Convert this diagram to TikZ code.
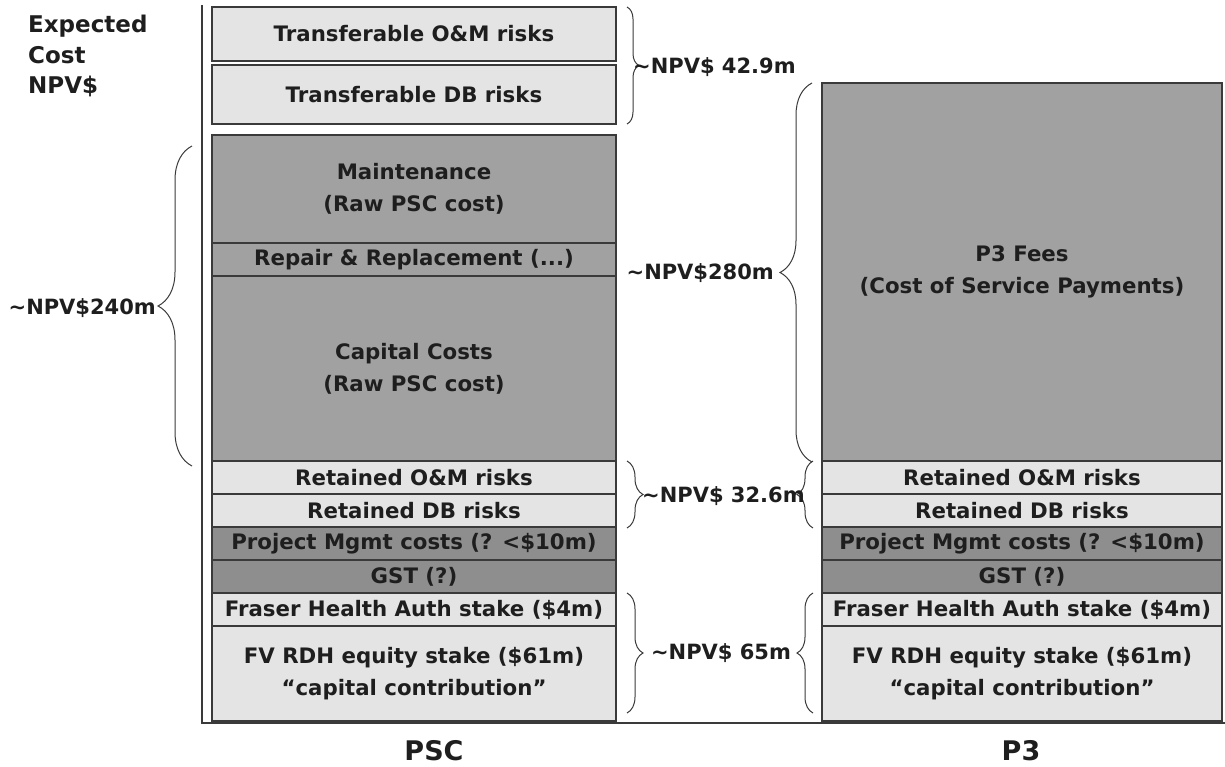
\documentclass[tikz,border=0pt]{standalone}
\usepackage{fontspec}
\setmainfont{DejaVu Sans}
\usetikzlibrary{decorations.pathreplacing}

\definecolor{light}{HTML}{E4E4E4}
\definecolor{mid}{HTML}{A1A1A1}
\definecolor{deep}{HTML}{8E8E8E}
\definecolor{edge}{HTML}{3A3A3A}
\definecolor{ink}{HTML}{1E1E1E}

\newcommand\cellfont{\fontsize{21.3}{32}\selectfont\bfseries}
\newcommand\tagfont{\fontsize{21}{24}\selectfont\bfseries}

\begin{document}
\begin{tikzpicture}[x=1pt,y=-1pt,
  cell/.style={draw=edge, line width=1.3pt, inner sep=0pt, text=ink,
    font=\cellfont, align=center},
  psc/.style={cell, minimum width=404pt},
  pthree/.style={cell, minimum width=400pt},
  brc/.style={decorate, decoration={brace, amplitude=#1}, draw=edge, line width=1pt},
  tag/.style={text=ink, font=\tagfont, inner sep=0pt},
  axisline/.style={draw=edge, line width=1.6pt}]

\useasboundingbox (0,0) rectangle (1225,767);

% value axis
\coordinate (ytop) at (202,5);
\coordinate (orig) at (202,723);
\coordinate (xend) at (1225,723);
\draw[axisline] (ytop) -- (orig) -- (xend);

% title
\node[anchor=west, align=left, text=ink, inner sep=0pt,
      font=\fontsize{23}{30.5}\selectfont\bfseries] (title) at (28,56)
  {Expected\\Cost\\NPV\$};

% PSC stack
\node[psc, fill=light, minimum height=54pt] (tom) at (414,34) {Transferable O\&M risks};
\node[psc, fill=light, minimum height=59pt] (tdb) at (414,94.5) {Transferable DB risks};
\node[psc, fill=mid, minimum height=108pt] (mnt) at (414,189) {Maintenance\\(Raw PSC cost)};
\node[psc, fill=mid, minimum height=33pt] (rep) at (414,259.5) {Repair \& Replacement (...)};
\node[psc, fill=mid, minimum height=185pt] (cap) at (414,368.5) {Capital Costs\\(Raw PSC cost)};
\node[psc, fill=light, minimum height=33pt] (rom) at (414,477.5) {Retained O\&M risks};
\node[psc, fill=light, minimum height=33pt] (rdb) at (414,510.5) {Retained DB risks};
\node[psc, fill=deep, minimum height=33pt] (pm) at (414,543.5) {Project Mgmt costs (? <\$10m)};
\node[psc, fill=deep, minimum height=33pt] (gst) at (414,576.5) {GST (?)};
\node[psc, fill=light, minimum height=33pt] (fha) at (414,609.5) {Fraser Health Auth stake (\$4m)};
\node[psc, fill=light, minimum height=95pt] (fv) at (414,673.5) {FV RDH equity stake (\$61m)\\“capital contribution”};

% P3 stack
\node[pthree, fill=mid, minimum height=378pt] (fees) at (1022,272) {P3 Fees\\(Cost of Service Payments)};
\node[pthree, fill=light, minimum height=33pt] (rom3) at (1022,477.5) {Retained O\&M risks};
\node[pthree, fill=light, minimum height=33pt] (rdb3) at (1022,510.5) {Retained DB risks};
\node[pthree, fill=deep, minimum height=33pt] (pm3) at (1022,543.5) {Project Mgmt costs (? <\$10m)};
\node[pthree, fill=deep, minimum height=33pt] (gst3) at (1022,576.5) {GST (?)};
\node[pthree, fill=light, minimum height=33pt] (fha3) at (1022,609.5) {Fraser Health Auth stake (\$4m)};
\node[pthree, fill=light, minimum height=95pt] (fv3) at (1022,673.5) {FV RDH equity stake (\$61m)\\“capital contribution”};

% brace end points
\coordinate (a1) at (627,7);    \coordinate (a2) at (627,124);
\coordinate (b1) at (192,146);  \coordinate (b2) at (192,466);
\coordinate (c1) at (812,83);   \coordinate (c2) at (812,462);
\coordinate (d1) at (627,461);  \coordinate (d2) at (627,528);
\coordinate (e1) at (813,461);  \coordinate (e2) at (813,528);
\coordinate (f1) at (627,593);  \coordinate (f2) at (627,713);
\coordinate (g1) at (813,593);  \coordinate (g2) at (813,713);

\draw[brc=12] (a1) -- (a2);
\draw[brc=34] (b2) -- (b1);
\draw[brc=32] (c2) -- (c1);
\draw[brc=16] (d1) -- (d2);
\draw[brc=16] (e2) -- (e1);
\draw[brc=16] (f1) -- (f2);
\draw[brc=16] (g2) -- (g1);

% brace values
\node[tag, anchor=west] (v429) at (633,67) {\textasciitilde NPV\$ 42.9m};
\node[tag, anchor=east] (v240) at (156,308) {\textasciitilde NPV\$240m};
\node[tag, anchor=east] (v280) at (774,273) {\textasciitilde NPV\$280m};
\node[tag, anchor=west] (v326) at (642,496) {\textasciitilde NPV\$ 32.6m};
\node[tag] (v65) at (721,653) {\textasciitilde NPV\$ 65m};

% column names
\node[text=ink, font=\fontsize{27}{30}\selectfont\bfseries, inner sep=0pt] (lpsc) at (434,751) {PSC};
\node[text=ink, font=\fontsize{27}{30}\selectfont\bfseries, inner sep=0pt] (lp3) at (1021,751) {P3};
\end{tikzpicture}
\end{document}
